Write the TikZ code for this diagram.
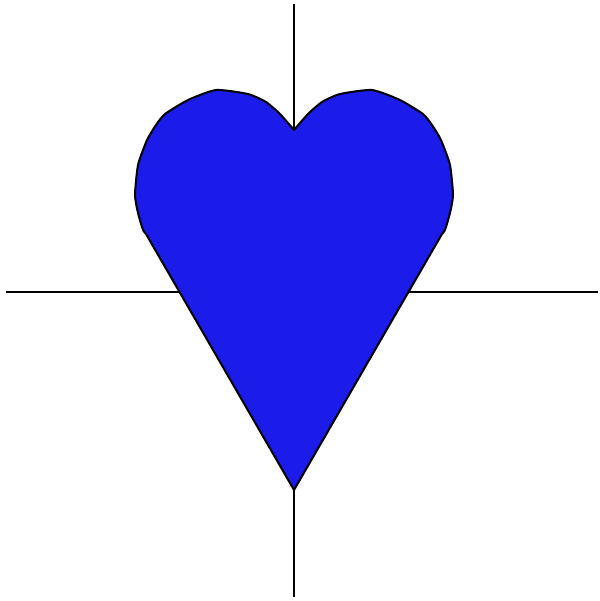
\documentclass[tikz,border=0pt]{standalone}
\definecolor{heartblue}{RGB}{28,28,234}
\begin{document}
\begin{tikzpicture}[x=1pt,y=-1pt,
  axis/.style={line width=1.5pt,black},
  heart/.style={fill=heartblue,draw=black,line width=2pt,line join=round}]
\useasboundingbox (0,0) rectangle (599,601);
\draw[axis] (6,292) -- (598,292);
\draw[axis] (294,4) -- (294,597);
\draw[heart] plot[smooth,tension=0.35] coordinates {(294,130) (308,114) (322,102) (340,94) (372,90) (400,100) (423,114) (432,125) (441,140) (450,165) (453,195) (450,213) (445,230) (442,234)}
  -- (294,490)
  -- plot[smooth,tension=0.35] coordinates {(146,234) (143,230) (138,213) (135,195) (138,165) (147,140) (156,125) (165,114) (188,100) (216,90) (248,94) (266,102) (280,114) (294,130)} -- cycle;
\end{tikzpicture}
\end{document}
